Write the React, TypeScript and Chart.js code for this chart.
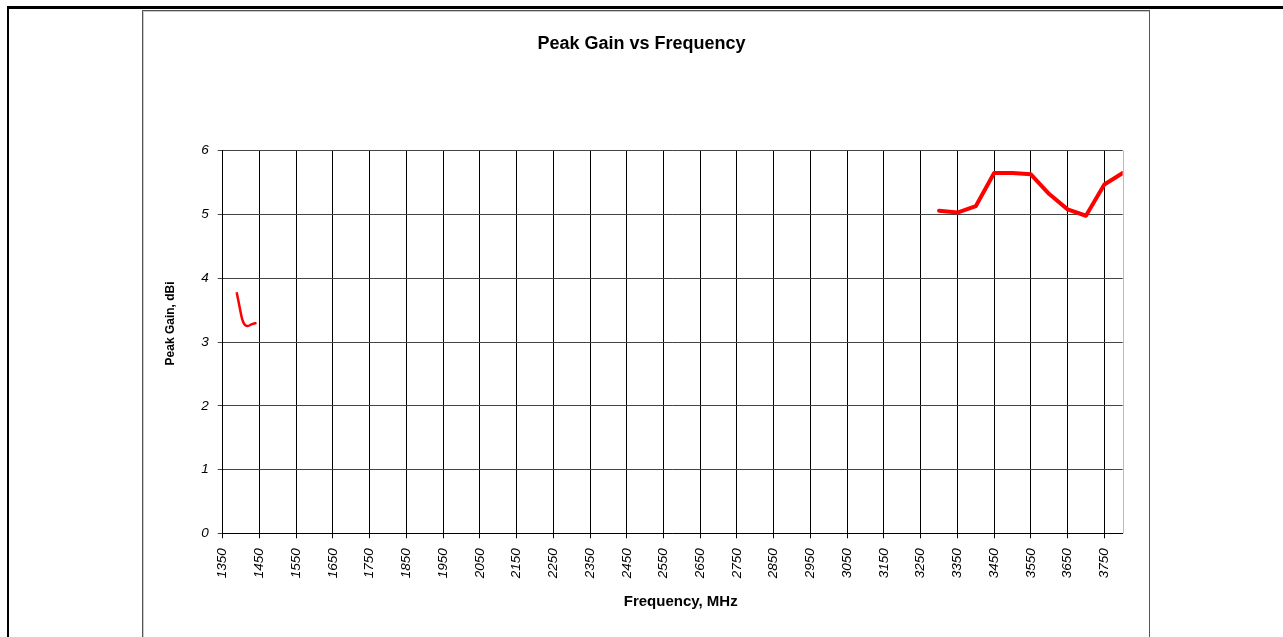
import React, { useEffect, useRef } from "react";
import { Chart, registerables } from "chart.js";

Chart.register(...registerables);

// ---- data ----
const chartTitle = "Peak Gain vs Frequency";
const xAxisTitle = "Frequency, MHz";
const yAxisTitle = "Peak Gain, dBi";

const xTickLabels = [
  1350, 1450, 1550, 1650, 1750, 1850, 1950, 2050, 2150, 2250, 2350, 2450, 2550,
  2650, 2750, 2850, 2950, 3050, 3150, 3250, 3350, 3450, 3550, 3650, 3750,
];
const xMin = 1350;
const xMax = 3800;
const yMin = 0;
const yMax = 6;

const lowBandFreq = [1388, 1396, 1403, 1410, 1418, 1430, 1442];
const lowBandGain = [3.78, 3.55, 3.36, 3.27, 3.25, 3.28, 3.3];

const highBandFreq = [3300, 3350, 3400, 3450, 3500, 3550, 3600, 3650, 3700, 3750, 3800];
const highBandGain = [5.06, 5.03, 5.13, 5.65, 5.65, 5.63, 5.32, 5.08, 4.98, 5.47, 5.65];

const FONT = '"Liberation Sans", Arial, Helvetica, sans-serif';

const textPlugin = {
  id: "excelTexts",
  afterDraw(chart: any) {
    const { ctx, chartArea } = chart;
    const cx = (chartArea.left + chartArea.right) / 2;
    const cy = (chartArea.top + chartArea.bottom) / 2;
    ctx.save();
    // right plot border
    ctx.strokeStyle = "#bdbdbd";
    ctx.lineWidth = 1;
    ctx.beginPath();
    const rx = Math.round(chartArea.right) + 0.5;
    ctx.moveTo(rx, chartArea.top);
    ctx.lineTo(rx, chartArea.bottom);
    ctx.stroke();

    ctx.fillStyle = "#000";
    ctx.textAlign = "center";
    ctx.textBaseline = "middle";
    // main title
    ctx.font = `bold 18px ${FONT}`;
    ctx.fillText(chartTitle, cx - 31.2, 32.9);
    // x title
    ctx.font = `bold 15px ${FONT}`;
    ctx.fillText(xAxisTitle, cx + 8, chartArea.bottom + 68.4);
    // y title
    ctx.font = `bold 12px ${FONT}`;
    ctx.translate(chartArea.left - 51.7, cy - 18.6);
    ctx.rotate(-Math.PI / 2);
    ctx.fillText(yAxisTitle, 0, 0);
    ctx.restore();
  },
};

export default function App() {
  const ref = useRef<HTMLCanvasElement>(null);

  useEffect(() => {
    if (!ref.current) return;
    const chart = new Chart(ref.current, {
      type: "line",
      data: {
        datasets: [
          {
            label: "Low band",
            data: lowBandFreq.map((f, i) => ({ x: f, y: lowBandGain[i] })),
            borderColor: "#ff0000",
            borderWidth: 2.5,
            pointRadius: 0,
            tension: 0.35,
            fill: false,
          },
          {
            label: "High band",
            data: highBandFreq.map((f, i) => ({ x: f, y: highBandGain[i] })),
            borderColor: "#ff0000",
            borderWidth: 4,
            pointRadius: 0,
            tension: 0,
            fill: false,
            borderJoinStyle: "round",
            borderCapStyle: "round",
          },
        ],
      },
      options: {
        animation: false,
        responsive: false,
        devicePixelRatio: 1,
        layout: { padding: { top: 139.7, right: 26.3, left: 0, bottom: 0 } },
        plugins: {
          legend: { display: false },
          title: { display: false },
          tooltip: { enabled: false },
        },
        scales: {
          x: {
            type: "linear",
            min: xMin,
            max: xMax,
            afterBuildTicks: (s: any) => {
              s.ticks = xTickLabels.map((v) => ({ value: v }));
            },
            afterFit: (s: any) => {
              s.height = 103.7;
            },
            ticks: {
              autoSkip: false,
              minRotation: 90,
              maxRotation: 90,
              padding: 10,
              color: "#000",
              font: { family: FONT, size: 13.5, style: "italic" },
              callback: (v: any) => String(v),
            },
            grid: { color: "#000", lineWidth: 1, tickLength: 5 },
            border: { color: "#000", width: 1 },
          },
          y: {
            min: yMin,
            max: yMax,
            afterFit: (s: any) => {
              s.width = 79.7;
            },
            ticks: {
              stepSize: 1,
              padding: 9,
              color: "#000",
              font: { family: FONT, size: 13.5, style: "italic" },
            },
            grid: { color: "#444", lineWidth: 1, tickLength: 5 },
            border: { color: "#000", width: 1 },
          },
        },
      },
      plugins: [textPlugin],
    });
    return () => chart.destroy();
  }, []);

  return (
    <div
      style={{
        position: "fixed",
        left: 0,
        top: 0,
        width: 1283,
        height: 637,
        overflow: "hidden",
        background: "#fff",
      }}
    >
      <div
        style={{
          position: "absolute",
          left: 7,
          top: 6,
          width: 1400,
          height: 800,
          borderTop: "3px solid #000",
          borderLeft: "2px solid #000",
        }}
      />
      <div
        style={{
          position: "absolute",
          left: 142,
          top: 10,
          width: 1006,
          height: 700,
          border: "1px solid #555",
          boxShadow: "inset 1px 1px 0 #c8c8c8",
          background: "#fff",
        }}
      >
        <canvas ref={ref} width={1006} height={626} style={{ display: "block" }} />
      </div>
    </div>
  );
}
